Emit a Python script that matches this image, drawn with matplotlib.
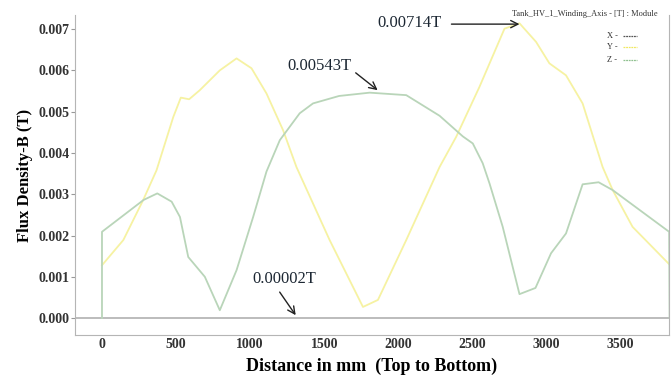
import numpy as np
import matplotlib
matplotlib.use("Agg")
import matplotlib.pyplot as plt

# values
y_dist = [0, 144, 278, 368, 481, 532, 588, 660, 795, 908, 1009, 1110, 1222, 1312,
          1536, 1761, 1862, 2053, 2278, 2390, 2547, 2716, 2817, 2929, 3019, 3131,
          3243, 3378, 3446, 3580, 3834]
y_flux = [0.00128, 0.00189, 0.00286, 0.00358, 0.00487, 0.00534, 0.00530, 0.00552,
          0.00600, 0.00629, 0.00605, 0.00544, 0.00455, 0.00366, 0.00189, 0.00027,
          0.00044, 0.00189, 0.00366, 0.00439, 0.00560, 0.00701, 0.00714, 0.00669,
          0.00617, 0.00588, 0.00520, 0.00366, 0.00310, 0.00221, 0.00128]

z_dist = [0, 0, 280, 373, 470, 526, 582, 694, 795, 908, 1020, 1110, 1200, 1334, 1424,
          1600, 1806, 2053, 2278, 2435, 2502, 2569, 2615, 2704, 2817, 2925, 3030,
          3131, 3243, 3351, 3446, 3827, 3830]
z_flux = [0.0, 0.00209, 0.00286, 0.00302, 0.00282, 0.00245, 0.00148, 0.00100, 0.00019,
          0.00116, 0.00245, 0.00355, 0.00431, 0.00496, 0.00520, 0.00538, 0.00546,
          0.00540, 0.00490, 0.00440, 0.00423, 0.00375, 0.00326, 0.00221, 0.00058,
          0.00073, 0.00157, 0.00205, 0.00324, 0.00329, 0.00310, 0.00209, 0.0]

x_ticks = [0, 500, 1000, 1500, 2000, 2500, 3000, 3500]
y_ticks = [0.000, 0.001, 0.002, 0.003, 0.004, 0.005, 0.006, 0.007]

# callouts: label, label position, arrow start, arrow tip
callouts = [('0.00714T', (2075, 0.00714), (2358, 0.00712), (2817, 0.00712)),
            ('0.00543T', (1469, 0.00610), (1712, 0.00594), (1860, 0.00552)),
            ('0.00002T', (1233, 0.00094), (1199, 0.00063), (1307, 0.00007))]

yellow = '#f6f2a2'
green = '#b9d5b9'
serif = ['Liberation Serif', 'DejaVu Serif']

fig = plt.figure(figsize=(6.71, 3.76), dpi=100)
ax = fig.add_axes([0.1118, 0.109, 0.885, 0.851])

ax.plot(y_dist, y_flux, color=yellow, lw=1.3)
ax.plot(z_dist, z_flux, color=green, lw=1.3)
ax.axhline(0, color='#b0b0b0', lw=1.2, zorder=0)

ax.set_xlim(-182, 3825)
ax.set_ylim(-0.00041, 0.00734)
ax.set_xticks(x_ticks)
ax.set_yticks(y_ticks)
ax.set_yticklabels(['%.3f' % v for v in y_ticks])
ax.tick_params(axis='x', length=0, pad=2)
ax.tick_params(axis='y', length=3, color='#999999', pad=1)
for lab in ax.get_xticklabels() + ax.get_yticklabels():
    lab.set_family(serif)
    lab.set_fontweight('bold')
    lab.set_fontsize(10)
    lab.set_color('#333333')

for s in ['left', 'bottom', 'right']:
    ax.spines[s].set_color('#b5b5b5')
ax.spines['top'].set_visible(False)

ax.set_xlabel('Distance in mm  (Top to Bottom)', family=serif, fontweight='bold',
              fontsize=13, labelpad=5)
ax.set_ylabel('Flux Density-B (T)', family=serif, fontweight='bold', fontsize=12,
              labelpad=4)

for text, pos, start, tip in callouts:
    ax.text(pos[0], pos[1], text, family=serif, fontsize=12, color='#1c2733',
            va='center', ha='center')
    ax.annotate('', xy=tip, xytext=start,
                arrowprops=dict(arrowstyle='->', color='#222222', lw=1.0,
                                shrinkA=0, shrinkB=0, mutation_scale=13))

fig.text(0.763, 0.962, 'Tank_HV_1_Winding_Axis - [T] : Module', family=serif,
         fontsize=6, color='#333333', va='center', ha='left')
legend_items = [('X', '#555555', 0.904), ('Y', '#f0e860', 0.874), ('Z', '#8fc08f', 0.840)]
for name, col, fy in legend_items:
    fig.text(0.905, fy, name + ' -', family=serif, fontsize=6, color='#333333',
             va='center', ha='left')
    fig.add_artist(plt.Line2D([0.928, 0.949], [fy, fy], color=col, lw=0.9,
                              linestyle=(0, (1.5, 0.6)), transform=fig.transFigure))

fig.savefig('out.png', dpi=100)
